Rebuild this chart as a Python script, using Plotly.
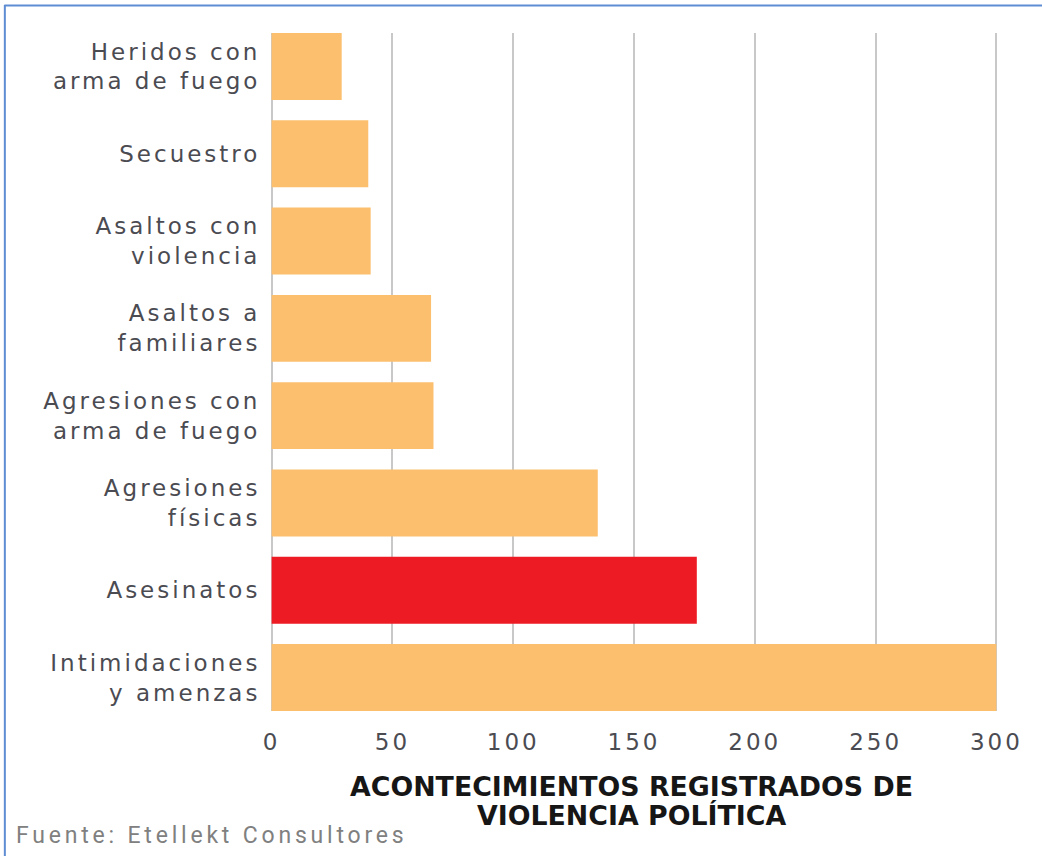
import plotly.graph_objects as go

# ---------------- data ----------------
categories = [
    "Heridos con<br>arma de fuego",
    "Secuestro",
    "Asaltos con<br>violencia",
    "Asaltos a<br>familiares",
    "Agresiones con<br>arma de fuego",
    "Agresiones<br>físicas",
    "Asesinatos",
    "Intimidaciones<br>y amenzas",
]
values = [29, 40, 41, 66, 67, 135, 176, 300]
highlight = "Asesinatos"
x_tickvals = [0, 50, 100, 150, 200, 250, 300]
x_ticktext = ["0", "50", "100", "150", "200", "250", "300"]
title_lines = ["ACONTECIMIENTOS REGISTRADOS DE", "VIOLENCIA POLÍTICA"]
source_text = "Fuente: Etellekt Consultores"

# ---------------- layout constants ----------------
W, H = 1042, 856
ZERO_PX, FULL_PX = 272, 996          # pixel x of value 0 and 300
PAD = 1.5                            # range padding (data units)
ppu = (FULL_PX - ZERO_PX) / 300.0
L = ZERO_PX - PAD * ppu
PW = (300 + 2 * PAD) * ppu
R = W - L - PW
T, BOT = 33, 711
B = H - BOT
PH = BOT - T

def xp(px):
    return (px - L) / PW

def yp(py):
    return (BOT - py) / PH

ORANGE = "#FCBF6E"
RED = "#ED1C24"
colors = [RED if c.replace("<br>", " ") == highlight else ORANGE for c in categories]

bargap = 0.233
half = (1 - bargap) / 2
n = len(categories)

fig = go.Figure(
    go.Bar(
        y=categories,
        x=values,
        orientation="h",
        marker=dict(color=colors, line=dict(width=0)),
        hoverinfo="x+y",
    )
)

label_font = dict(family="DejaVu Sans", size=23, color="#4b4b52")

fig.update_layout(
    width=W,
    height=H,
    margin=dict(l=L, r=R, t=T, b=B, pad=0),
    paper_bgcolor="white",
    plot_bgcolor="white",
    bargap=bargap,
    showlegend=False,
    xaxis=dict(
        range=[-PAD, 300 + PAD],
        tickvals=x_tickvals,
        ticktext=x_ticktext,
        showgrid=True,
        gridcolor="#c8c8c8",
        gridwidth=2,
        zeroline=False,
        showline=False,
        ticks="outside",
        ticklen=10,
        tickcolor="rgba(0,0,0,0)",
        tickfont=label_font,
        fixedrange=True,
    ),
    yaxis=dict(
        categoryorder="array",
        categoryarray=categories,
        range=[n - 1 + half, -half],
        showgrid=False,
        zeroline=False,
        showline=False,
        ticks="outside",
        ticklen=2,
        tickcolor="rgba(0,0,0,0)",
        tickfont=label_font,
        fixedrange=True,
    ),
    annotations=[
        dict(
            text=title_lines[0], x=xp(632), y=yp(786), xref="paper", yref="paper",
            xanchor="center", yanchor="middle", showarrow=False,
            font=dict(family="DejaVu Sans", size=26.8, color="#161616", weight="bold"),
        ),
        dict(
            text=title_lines[1], x=xp(632), y=yp(815), xref="paper", yref="paper",
            xanchor="center", yanchor="middle", showarrow=False,
            font=dict(family="DejaVu Sans", size=26.8, color="#161616", weight="bold"),
        ),
        dict(
            text=source_text, x=xp(15), y=yp(836), xref="paper", yref="paper",
            xanchor="left", yanchor="middle", showarrow=False,
            font=dict(family="Roboto", size=23, color="#808080"),
        ),
    ],
    shapes=[
        dict(type="line", xref="paper", yref="paper",
             x0=xp(5), x1=xp(W + 2), y0=yp(5.5), y1=yp(5.5),
             line=dict(color="#5f8dd3", width=2)),
        dict(type="line", xref="paper", yref="paper",
             x0=xp(5.5), x1=xp(5.5), y0=yp(5), y1=yp(H + 2),
             line=dict(color="#5f8dd3", width=2)),
    ],
)

post = """
document.body.style.margin = '0';
document.body.style.overflow = 'hidden';
var gd = document.getElementById('{plot_id}');
gd.querySelectorAll('.ytick text').forEach(function(t){ t.style.letterSpacing = '3px'; });
gd.querySelectorAll('.xtick text').forEach(function(t){ t.style.letterSpacing = '3px'; });
gd.querySelectorAll('.annotation-text').forEach(function(t){
  if (t.textContent.indexOf('Fuente') === 0) {
    var b0 = t.getBBox();
    t.style.letterSpacing = '3.8px';
    var b1 = t.getBBox();
    var x = parseFloat(t.getAttribute('x') || '0');
    t.setAttribute('x', x + (b0.x - b1.x));
  }
});
"""

fig.write_html("out.html", post_script=post, config={"displayModeBar": False})
